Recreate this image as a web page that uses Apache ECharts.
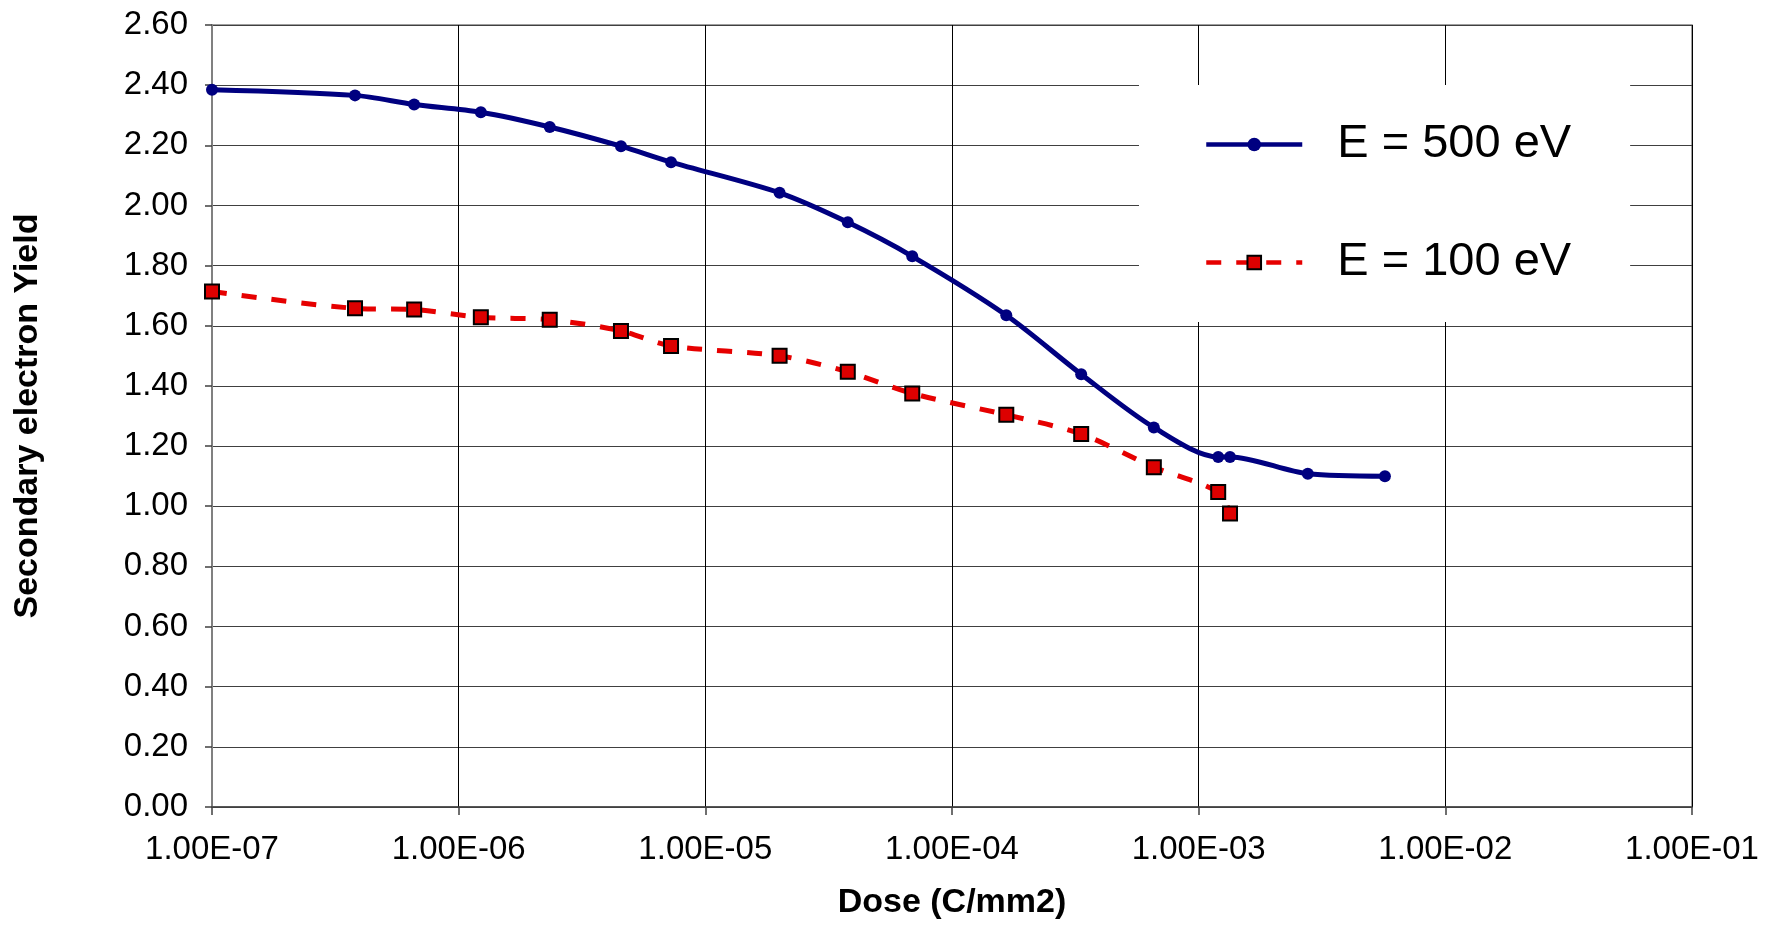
<!DOCTYPE html>
<html>
<head>
<meta charset="utf-8">
<script src="https://cdn.jsdelivr.net/npm/echarts@6/dist/echarts.min.js"></script>
<style>html,body{margin:0;padding:0;background:#fff;}#c{width:1777px;height:925px;}</style>
</head>
<body>
<div id="c"></div>
<script>
// Dose (C/mm2) and secondary electron yield
const dose500 = [1.0e-7, 3.8e-7, 6.6e-7, 1.23e-6, 2.34e-6, 4.55e-6, 7.26e-6, 2.0e-5, 3.78e-5, 6.9e-5, 1.66e-4, 3.34e-4, 6.58e-4, 1.2e-3, 1.34e-3, 2.77e-3, 5.69e-3];
const yield500 = [2.385, 2.366, 2.336, 2.310, 2.261, 2.197, 2.144, 2.042, 1.944, 1.831, 1.635, 1.439, 1.262, 1.164, 1.164, 1.108, 1.100];
const dose100 = [1.0e-7, 3.8e-7, 6.6e-7, 1.23e-6, 2.34e-6, 4.55e-6, 7.26e-6, 2.0e-5, 3.78e-5, 6.9e-5, 1.66e-4, 3.34e-4, 6.58e-4, 1.2e-3, 1.34e-3];
const yield100 = [1.714, 1.658, 1.654, 1.628, 1.620, 1.583, 1.533, 1.500, 1.447, 1.375, 1.304, 1.240, 1.130, 1.047, 0.976];
const seriesNames = ['E = 500 eV', 'E = 100 eV'];
const xTickLabels = ['1.00E-07', '1.00E-06', '1.00E-05', '1.00E-04', '1.00E-03', '1.00E-02', '1.00E-01'];
const xTitle = 'Dose (C/mm2)';
const yTitle = 'Secondary electron Yield';

const FONT = '"Liberation Sans", Arial, sans-serif';
const chart = echarts.init(document.getElementById('c'), null, {renderer: 'canvas'});
const pairs = (xs, ys) => xs.map((x, i) => [x, ys[i]]);

chart.setOption({
  backgroundColor: '#fff',
  animation: false,
  grid: {left: 212, right: 85, top: 25, bottom: 118, show: true, borderColor: '#808080', borderWidth: 1.5, backgroundColor: 'transparent'},
  legend: {
    orient: 'vertical',
    left: 1139, top: 85,
    padding: [36, 59, 36, 65],
    backgroundColor: '#fff',
    itemWidth: 96, itemHeight: 17,
    itemGap: 71,
    textStyle: {fontFamily: FONT, fontSize: 47, color: '#000', lineHeight: 47, padding: [0, 0, 0, 30]},
    data: [
      {name: seriesNames[0], lineStyle: {width: 4.5}},
      {name: seriesNames[1], lineStyle: {width: 4.5}}
    ]
  },
  xAxis: {
    type: 'log', logBase: 10, min: 1e-7, max: 1e-1,
    name: xTitle, nameLocation: 'middle', nameGap: 79,
    nameTextStyle: {fontFamily: FONT, fontSize: 34, fontWeight: 'bold', color: '#000'},
    axisLine: {show: true, lineStyle: {color: '#404040', width: 1.5}},
    axisTick: {show: true, length: 8, lineStyle: {color: '#404040', width: 1.5}},
    axisLabel: {fontFamily: FONT, fontSize: 33, color: '#000', margin: 26,
      formatter: v => xTickLabels[Math.round(Math.log10(v)) + 7]},
    splitLine: {show: true, lineStyle: {color: '#000', width: 1}},
    minorTick: {show: false}
  },
  yAxis: {
    type: 'value', min: 0, max: 2.6, interval: 0.2,
    name: yTitle, nameLocation: 'middle', nameGap: 167,
    nameTextStyle: {fontFamily: FONT, fontSize: 34, fontWeight: 'bold', color: '#000'},
    axisLine: {show: true, lineStyle: {color: '#808080', width: 2}},
    axisTick: {show: true, length: 7, lineStyle: {color: '#404040', width: 1.5}},
    axisLabel: {fontFamily: FONT, fontSize: 33, color: '#000', margin: 24, formatter: v => v.toFixed(2)},
    splitLine: {show: true, lineStyle: {color: '#404040', width: 1.2}}
  },
  series: [
    {
      name: seriesNames[0], type: 'line', data: pairs(dose500, yield500),
      smooth: 0.3, symbol: 'circle', symbolSize: 12,
      lineStyle: {color: '#000080', width: 5},
      itemStyle: {color: '#000080'},
      z: 3
    },
    {
      name: seriesNames[1], type: 'line', data: pairs(dose100, yield100),
      smooth: 0.3, symbol: 'rect', symbolSize: 14,
      lineStyle: {color: '#e60000', width: 5, type: [15, 15]},
      itemStyle: {color: '#dd0000', borderColor: '#000', borderWidth: 2},
      z: 4
    }
  ]
});
</script>
</body>
</html>
